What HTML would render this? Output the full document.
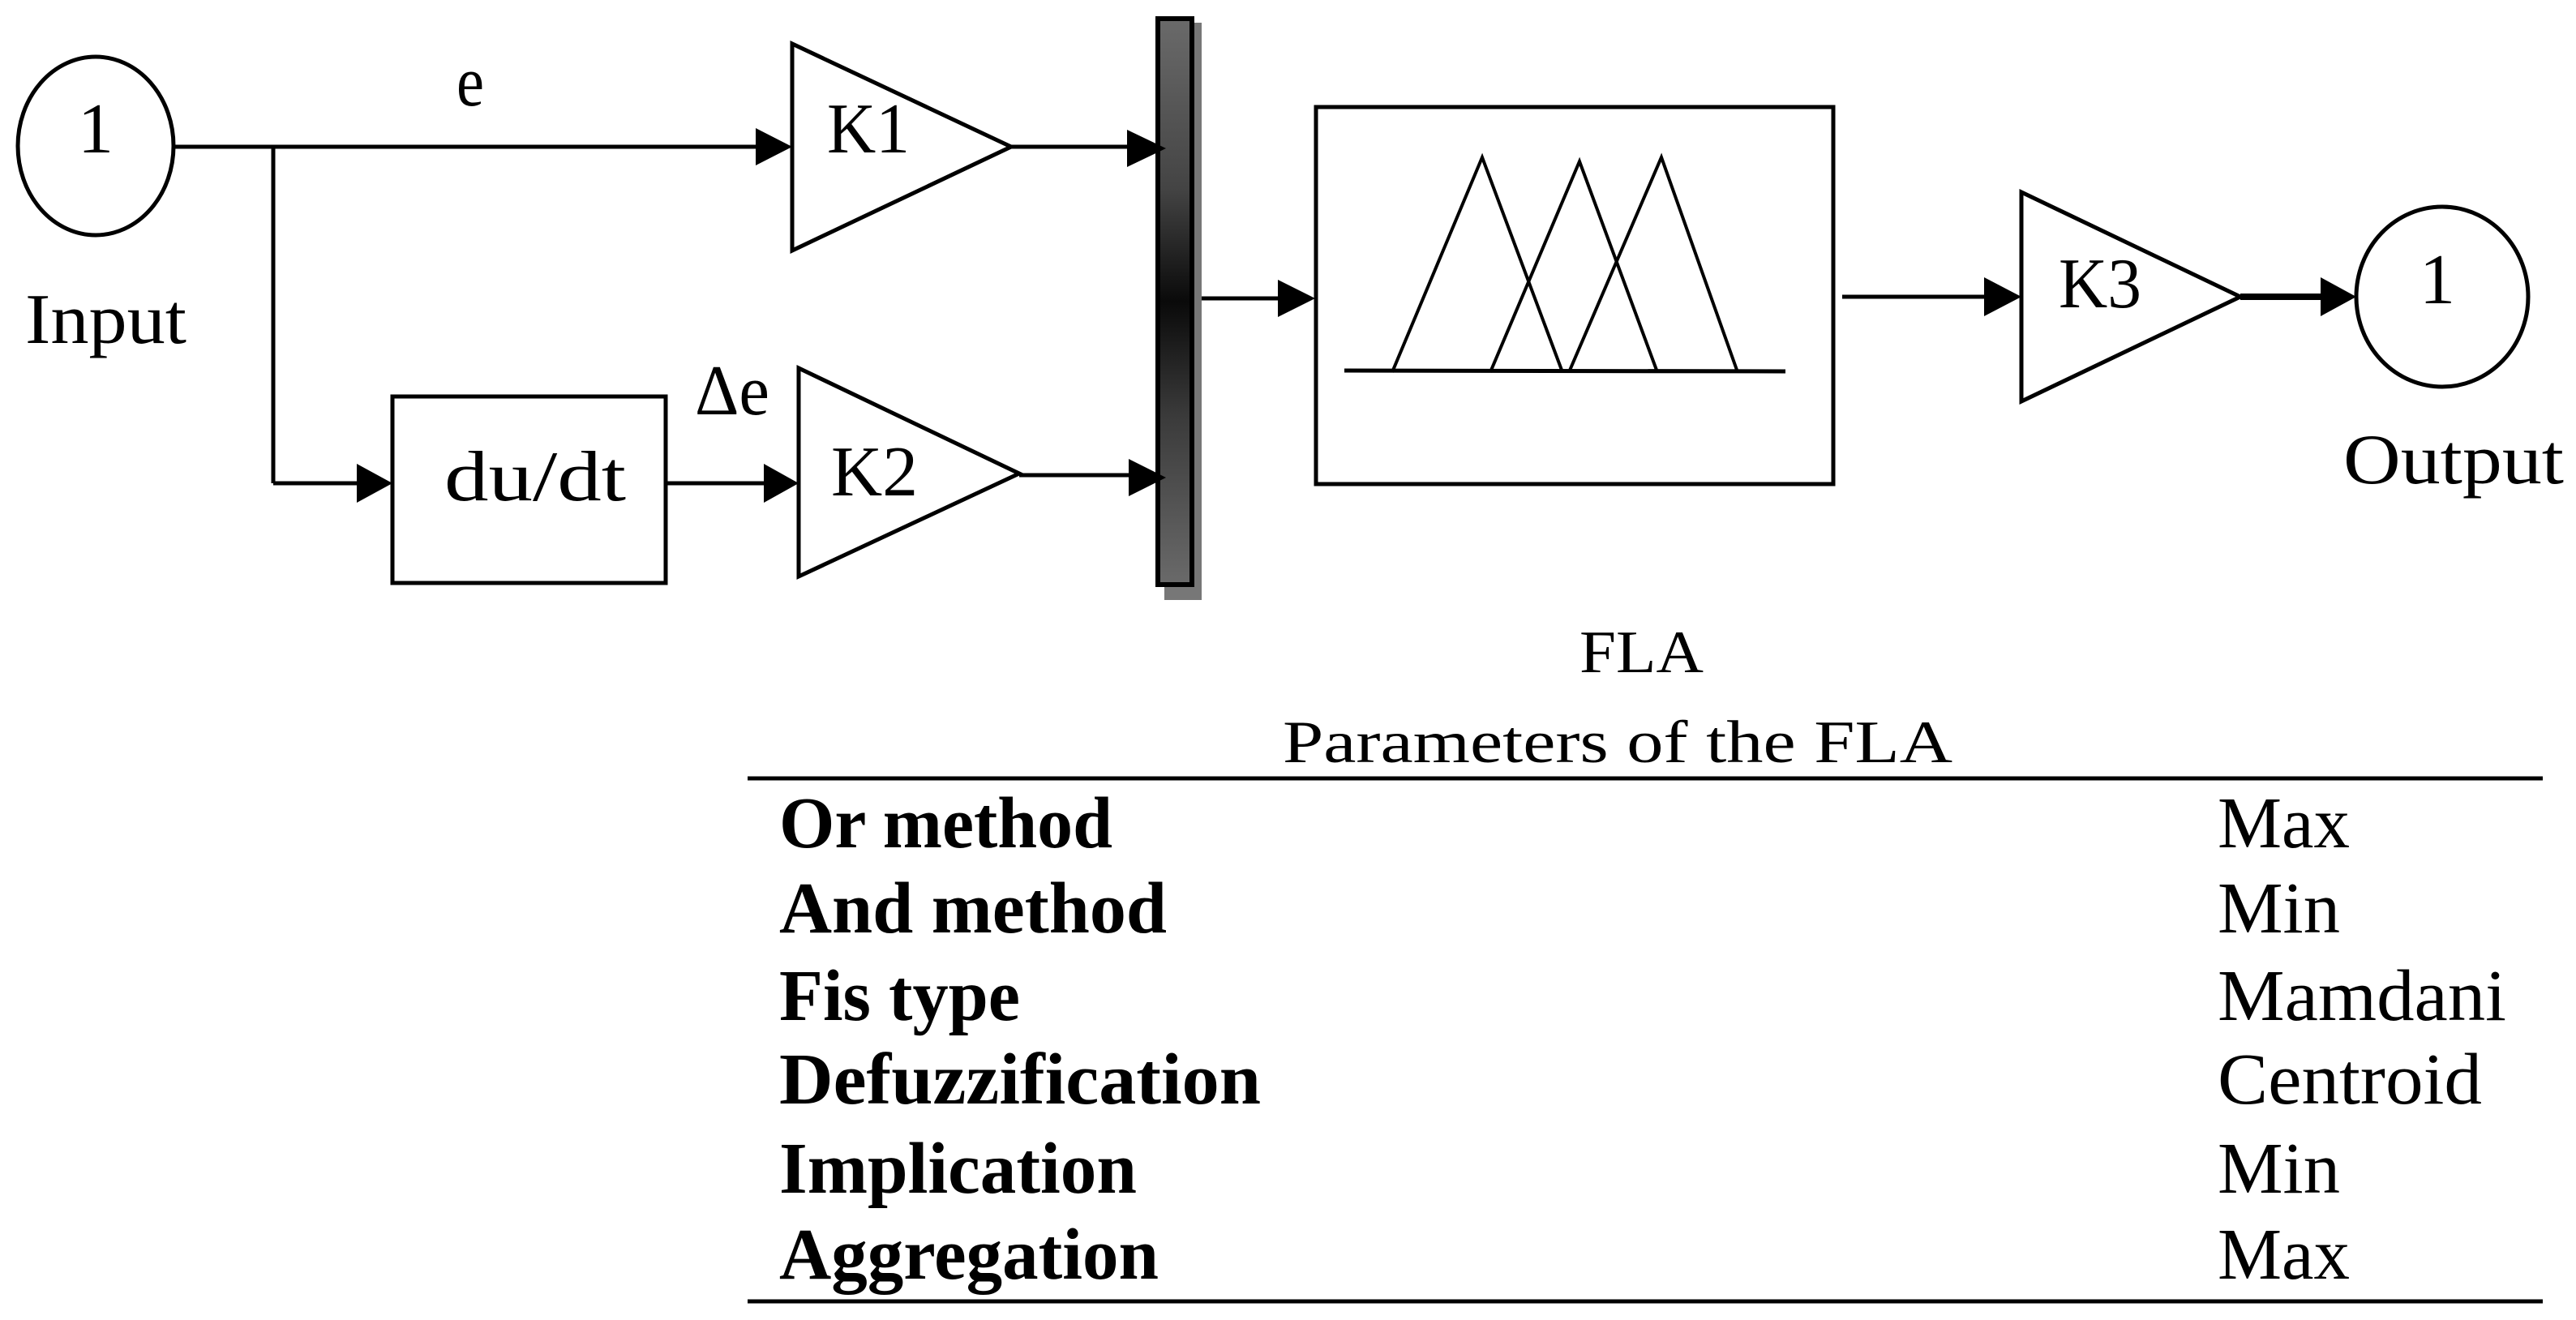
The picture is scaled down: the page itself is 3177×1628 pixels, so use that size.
<!DOCTYPE html>
<html><head><meta charset="utf-8"><style>
html,body{margin:0;padding:0;background:#fff;}
svg{display:block;}
text{font-family:"Liberation Serif",serif;fill:#000;}
</style></head><body>
<svg width="3177" height="1628" viewBox="0 0 3177 1628" xmlns="http://www.w3.org/2000/svg">
<defs>
<linearGradient id="bus" x1="0" y1="0" x2="0" y2="1">
<stop offset="0" stop-color="#6a6a6a"/>
<stop offset="0.3" stop-color="#444"/>
<stop offset="0.5" stop-color="#0a0a0a"/>
<stop offset="0.7" stop-color="#3a3a3a"/>
<stop offset="1" stop-color="#6a6a6a"/>
</linearGradient>
</defs>
<g stroke="#000" stroke-width="5" fill="none">
<ellipse cx="118" cy="180" rx="96" ry="110"/>
<line x1="214" y1="181" x2="940" y2="181"/>
<line x1="337" y1="181" x2="337" y2="596"/>
<line x1="337" y1="596" x2="445" y2="596"/>
<rect x="484" y="489" width="337" height="230"/>
<line x1="821" y1="596" x2="955" y2="596"/>
<polygon points="977,54 977,309 1247,181"/>
<polygon points="985,454 985,711 1257,584"/>
<line x1="1247" y1="181" x2="1400" y2="181"/>
<line x1="1257" y1="586" x2="1400" y2="586"/>
<line x1="1471" y1="368" x2="1585" y2="368"/>
<rect x="1623" y="132" width="638" height="465"/>
<line x1="1658" y1="457" x2="2202" y2="458"/>
<polyline points="1717,459 1828,194 1927,459" stroke-width="4"/>
<polyline points="1838,459 1948,199 2044,459" stroke-width="4"/>
<polyline points="1935,459 2049,194 2143,459" stroke-width="4"/>
<line x1="2272" y1="366" x2="2455" y2="366"/>
<polygon points="2493,237 2493,495 2763,366"/>
<line x1="2763" y1="366" x2="2870" y2="366" stroke-width="8"/>
<ellipse cx="3012" cy="366" rx="106" ry="111"/>
<line x1="922" y1="960" x2="3136" y2="960" stroke-width="5"/>
<line x1="922" y1="1605" x2="3136" y2="1605" stroke-width="5"/>
</g>
<rect x="1436" y="28" width="46" height="712" fill="#777"/>
<rect x="1428" y="23" width="42" height="698" fill="url(#bus)" stroke="#000" stroke-width="6"/>
<g fill="#000">
<polygon points="977,181 932,158 932,204"/>
<polygon points="484,596 440,572 440,620"/>
<polygon points="985,596 942,572 942,620"/>
<polygon points="1438,183 1390,160 1390,206"/>
<polygon points="1438,589 1392,566 1392,612"/>
<polygon points="1622,368 1576,345 1576,391"/>
<polygon points="2493,366 2447,342 2447,390"/>
<polygon points="2906,366 2862,342 2862,390"/>
</g>
<g font-size="88">
<text x="118" y="188" text-anchor="middle">1</text>
<text x="31" y="423" textLength="199" lengthAdjust="spacingAndGlyphs">Input</text>
<text x="563" y="130" textLength="34" lengthAdjust="spacingAndGlyphs">e</text>
<text x="1020" y="188" textLength="102" lengthAdjust="spacingAndGlyphs">K1</text>
<text x="1025" y="611" textLength="107" lengthAdjust="spacingAndGlyphs">K2</text>
<text x="857" y="511" textLength="92" lengthAdjust="spacingAndGlyphs">Δe</text>
<text x="548" y="617" textLength="224" lengthAdjust="spacingAndGlyphs">du/dt</text>
<text x="2539" y="379" textLength="102" lengthAdjust="spacingAndGlyphs">K3</text>
<text x="3006" y="374" text-anchor="middle">1</text>
<text x="2890" y="596" textLength="272" lengthAdjust="spacingAndGlyphs">Output</text>
</g>
<g font-size="74">
<text x="1948" y="829" textLength="153" lengthAdjust="spacingAndGlyphs">FLA</text>
<text x="1582" y="940" textLength="826" lengthAdjust="spacingAndGlyphs">Parameters of the FLA</text>
</g>
<g font-size="90" font-weight="bold">
<text x="961" y="1045" textLength="411" lengthAdjust="spacingAndGlyphs">Or method</text>
<text x="961" y="1150" textLength="478" lengthAdjust="spacingAndGlyphs">And method</text>
<text x="961" y="1258" textLength="297" lengthAdjust="spacingAndGlyphs">Fis type</text>
<text x="961" y="1361" textLength="594" lengthAdjust="spacingAndGlyphs">Defuzzification</text>
<text x="961" y="1471" textLength="441" lengthAdjust="spacingAndGlyphs">Implication</text>
<text x="961" y="1577" textLength="468" lengthAdjust="spacingAndGlyphs">Aggregation</text>
</g>
<g font-size="90">
<text x="2735" y="1045" textLength="163" lengthAdjust="spacingAndGlyphs">Max</text>
<text x="2735" y="1150" textLength="151" lengthAdjust="spacingAndGlyphs">Min</text>
<text x="2735" y="1258" textLength="356" lengthAdjust="spacingAndGlyphs">Mamdani</text>
<text x="2735" y="1361" textLength="326" lengthAdjust="spacingAndGlyphs">Centroid</text>
<text x="2735" y="1471" textLength="151" lengthAdjust="spacingAndGlyphs">Min</text>
<text x="2735" y="1577" textLength="163" lengthAdjust="spacingAndGlyphs">Max</text>
</g>
</svg>
</body></html>
